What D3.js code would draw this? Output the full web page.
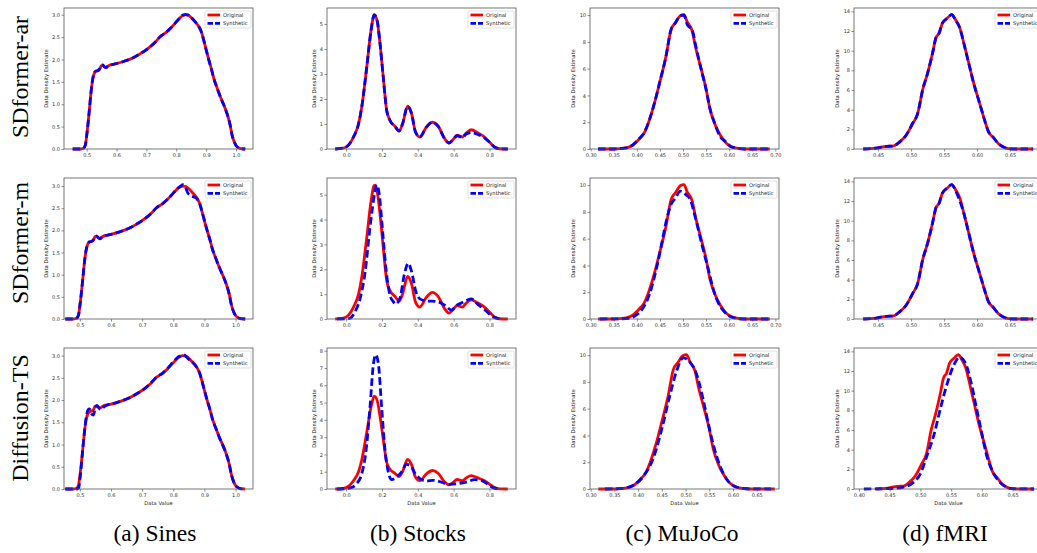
<!DOCTYPE html>
<meta charset="utf-8">
<style>
body { margin: 0; background: #fff; }
svg { display: block; }
.tick text { font-family: 'DejaVu Sans', sans-serif; font-size: 5px; fill: #333; }
.alabel { font-family: 'DejaVu Sans', sans-serif; font-size: 5.2px; fill: #222; }
.legend text { font-family: 'DejaVu Sans', sans-serif; font-size: 5.2px; fill: #222; }
.big { font-family: 'Liberation Serif', 'Times New Roman', serif; font-size: 24px; fill: #000; }
</style>
<body>
<svg width="1037" height="553"></svg>
<script src="https://d3js.org/d3.v7.min.js"></script>
<script>

// ---- data ----
var models = ["SDformer-ar", "SDformer-m", "Diffusion-TS"];
var datasets = ["(a) Sines", "(b) Stocks", "(c) MuJoCo", "(d) fMRI"];

// Sines
var sinesOrigX = [0.453,0.48,0.49,0.496,0.5,0.505,0.51,0.515,0.52,0.526,0.531,0.537,0.543,0.549,0.554,0.56,0.565,0.571,0.576,0.588,0.6,0.625,0.656,0.68,0.712,0.73,0.746,0.765,0.78,0.8,0.814,0.822,0.831,0.84,0.848,0.862,0.876,0.885,0.892,0.9,0.909,0.918,0.926,0.937,0.948,0.96,0.97,0.98,0.987,0.994,1.0,1.008,1.015,1.031];
var sinesOrigY = [0,0,0.02,0.1,0.3,0.6,0.95,1.3,1.55,1.7,1.74,1.75,1.78,1.86,1.87,1.83,1.82,1.85,1.87,1.89,1.91,1.96,2.04,2.13,2.28,2.39,2.51,2.6,2.69,2.84,2.94,2.98,3.0,2.99,2.95,2.85,2.73,2.6,2.43,2.22,1.99,1.78,1.57,1.36,1.16,0.97,0.79,0.55,0.31,0.16,0.08,0.03,0.01,0];
var sinesArY = [0,0,0.02,0.1,0.3,0.6,0.95,1.3,1.56,1.71,1.74,1.75,1.79,1.87,1.88,1.83,1.82,1.85,1.87,1.89,1.91,1.96,2.04,2.13,2.28,2.39,2.51,2.6,2.69,2.84,2.94,2.99,3.0,2.99,2.95,2.85,2.73,2.6,2.43,2.22,1.99,1.78,1.57,1.36,1.16,0.97,0.79,0.55,0.31,0.16,0.08,0.03,0.01,0];
var sinesMY = [0,0,0.02,0.1,0.3,0.6,0.95,1.3,1.55,1.7,1.74,1.75,1.78,1.86,1.87,1.83,1.81,1.85,1.87,1.89,1.91,1.96,2.04,2.13,2.28,2.39,2.51,2.6,2.69,2.84,2.95,2.99,3.03,2.95,2.83,2.77,2.71,2.6,2.43,2.22,1.99,1.78,1.57,1.36,1.16,0.97,0.79,0.55,0.31,0.16,0.08,0.03,0.01,0];
var sinesDiffY = [0,0,0,0.02,0.2,0.55,0.95,1.3,1.6,1.78,1.8,1.7,1.66,1.8,1.88,1.84,1.79,1.8,1.84,1.89,1.91,1.96,2.04,2.13,2.28,2.4,2.52,2.6,2.7,2.86,2.96,2.99,3.02,2.99,2.93,2.85,2.73,2.6,2.43,2.22,1.99,1.78,1.57,1.36,1.16,0.97,0.79,0.55,0.31,0.16,0.08,0.03,0.01,0];
var sinesXDomains = [[0.424, 1.057], [0.449, 1.056], [0.449, 1.056]];
var sinesXTicks = [0.5, 0.6, 0.7, 0.8, 0.9, 1.0];
var sinesYTicks = [0, 0.5, 1.0, 1.5, 2.0, 2.5, 3.0];

// Stocks
var stocksOrigX = [-0.061,-0.015,0.004,0.041,0.069,0.087,0.115,0.139,0.157,0.174,0.189,0.207,0.226,0.244,0.272,0.296,0.315,0.343,0.365,0.387,0.411,0.448,0.481,0.513,0.55,0.574,0.596,0.619,0.648,0.67,0.698,0.735,0.767,0.8,0.828,0.856,0.902];
var stocksOrigY = [0,0.04,0.1,0.48,1.0,1.68,3.28,4.75,5.37,5.08,4.21,2.88,1.55,1.15,0.91,0.72,1.01,1.71,1.41,0.68,0.48,0.88,1.07,0.91,0.41,0.24,0.37,0.55,0.48,0.64,0.77,0.64,0.51,0.28,0.08,0.01,0];
var stocksArY = [0,0.04,0.1,0.48,1.0,1.68,3.28,4.75,5.36,5.1,4.21,2.88,1.55,1.15,0.91,0.72,1.01,1.7,1.42,0.68,0.48,0.88,1.07,0.91,0.41,0.24,0.37,0.53,0.46,0.6,0.66,0.58,0.47,0.27,0.08,0.01,0];
var stocksMX = [-0.05,0.0,0.022,0.05,0.078,0.106,0.133,0.161,0.17,0.185,0.202,0.222,0.244,0.263,0.275,0.3,0.324,0.346,0.365,0.389,0.411,0.448,0.504,0.55,0.587,0.615,0.652,0.698,0.735,0.781,0.819,0.856];
var stocksMY = [0,0.01,0.03,0.3,0.83,1.9,3.68,5.13,5.4,5.0,3.66,2.04,0.97,0.7,0.6,0.83,1.77,2.24,1.91,1.1,0.81,0.73,0.7,0.56,0.36,0.54,0.67,0.81,0.59,0.32,0.09,0];
var stocksDiffX = [-0.052,0.0,0.022,0.059,0.087,0.111,0.133,0.152,0.165,0.18,0.198,0.217,0.235,0.254,0.281,0.309,0.337,0.359,0.383,0.411,0.448,0.485,0.531,0.574,0.624,0.67,0.717,0.754,0.791,0.819,0.856];
var stocksDiffY = [0,0.02,0.06,0.31,0.88,2.23,4.73,7.23,7.77,7.23,4.73,2.23,0.98,0.54,0.69,0.98,1.42,1.37,0.92,0.6,0.46,0.5,0.4,0.27,0.31,0.4,0.54,0.5,0.27,0.08,0];
var stocksXDomains = [[-0.107, 0.948], [-0.107, 0.948], [-0.107, 0.948]];
var stocksXTicks = [0.0, 0.2, 0.4, 0.6, 0.8];
var stocksYTicks = [0, 1, 2, 3, 4, 5, 6, 7, 8];

// MuJoCo
var mujocoOrigX = [0.316,0.35,0.377,0.391,0.406,0.416,0.427,0.438,0.449,0.463,0.474,0.484,0.494,0.502,0.509,0.52,0.527,0.538,0.549,0.559,0.57,0.581,0.591,0.602,0.613,0.634,0.688];
var mujocoOrigY = [0,0,0.08,0.28,0.78,1.2,2.15,3.4,4.9,6.9,8.9,9.45,9.95,10.03,9.5,8.8,7.65,6.15,4.65,2.9,1.78,1.03,0.53,0.23,0.08,0,0];
var mujocoArY = [0,0,0.08,0.3,0.8,1.22,2.15,3.42,4.9,6.9,8.9,9.45,9.95,10.0,9.3,8.9,7.8,6.15,4.6,2.95,1.8,0.9,0.6,0.22,0.08,0,0];
var mujocoMX = [0.32,0.36,0.384,0.399,0.413,0.427,0.441,0.452,0.463,0.474,0.484,0.494,0.506,0.516,0.527,0.541,0.556,0.566,0.577,0.588,0.599,0.609,0.63,0.685];
var mujocoMY = [0,0.01,0.05,0.3,0.8,1.8,3.55,5.3,7.2,8.55,9.05,9.55,9.3,8.9,7.55,5.55,3.55,2.17,1.17,0.6,0.25,0.1,0,0];
var mujocoDiffX = [0.33,0.363,0.391,0.412,0.433,0.45,0.467,0.481,0.495,0.509,0.523,0.537,0.551,0.565,0.579,0.593,0.607,0.628,0.68];
var mujocoDiffY = [0,0.03,0.3,1.0,2.4,4.5,7.0,8.8,9.8,9.5,8.6,6.7,4.4,2.5,1.2,0.45,0.15,0.02,0];
var mujocoXDomains = [[0.2985, 0.708], [0.2985, 0.708], [0.2985, 0.697]];
var mujocoXTicks = [0.30, 0.35, 0.40, 0.45, 0.50, 0.55, 0.60, 0.65, 0.70];
var mujocoYTicks = [0, 2, 4, 6, 8, 10];

// fMRI
var fmriOrigX = [0.4275,0.4475,0.4625,0.4725,0.4825,0.4925,0.5025,0.51,0.5175,0.525,0.5325,0.5375,0.5425,0.5475,0.555,0.5615,0.5675,0.574,0.58,0.5875,0.595,0.6025,0.61,0.6175,0.625,0.6325,0.64,0.6475,0.66,0.685];
var fmriOrigY = [0,0.1,0.27,0.3,0.72,1.4,2.6,3.6,6.0,7.7,9.74,11.27,11.78,12.8,13.32,13.66,13.15,12.3,10.76,8.72,6.68,4.97,3.27,1.74,1.16,0.54,0.2,0.03,0,0];
var fmriArY = [0,0.1,0.26,0.3,0.7,1.4,2.62,3.6,6.0,7.7,9.7,11.27,11.8,12.8,13.3,13.66,13.1,12.3,10.76,8.7,6.68,4.97,3.27,1.74,1.16,0.54,0.2,0.03,0,0];
var fmriMY = [0,0.1,0.27,0.3,0.72,1.4,2.6,3.6,6.0,7.7,9.74,11.27,11.78,12.8,13.32,13.66,13.05,12.0,10.76,8.72,6.68,4.97,3.27,1.74,1.16,0.54,0.2,0.03,0,0];
var fmriDiffX = [0.408,0.453,0.4725,0.489,0.5,0.51,0.5225,0.533,0.5435,0.554,0.564,0.575,0.583,0.591,0.599,0.607,0.618,0.629,0.64,0.65,0.685];
var fmriDiffY = [0,0.05,0.2,0.7,1.55,3.25,5.6,8.3,10.7,12.55,13.4,12.55,10.7,8.3,5.95,3.6,1.72,0.7,0.2,0.03,0];
var fmriXDomains = [[0.4135, 0.70], [0.4135, 0.70], [0.392, 0.6995]];
var fmriXTicks = [0.40, 0.45, 0.50, 0.55, 0.60, 0.65];
var fmriYTicks = [0, 2, 4, 6, 8, 10, 12, 14];

// ---- build panels ----
function pts(xs, ys) { return xs.map(function(x, i) { return [x, ys[i]]; }); }

var cols = [
  { orig: pts(sinesOrigX, sinesOrigY),
    synth: [pts(sinesOrigX, sinesArY), pts(sinesOrigX, sinesMY), pts(sinesOrigX, sinesDiffY)],
    xdom: sinesXDomains, xt: sinesXTicks, yt: sinesYTicks, fx: ".1f", fy: ".1f" },
  { orig: pts(stocksOrigX, stocksOrigY),
    synth: [pts(stocksOrigX, stocksArY), pts(stocksMX, stocksMY), pts(stocksDiffX, stocksDiffY)],
    xdom: stocksXDomains, xt: stocksXTicks, yt: stocksYTicks, fx: ".1f", fy: "d" },
  { orig: pts(mujocoOrigX, mujocoOrigY),
    synth: [pts(mujocoOrigX, mujocoArY), pts(mujocoMX, mujocoMY), pts(mujocoDiffX, mujocoDiffY)],
    xdom: mujocoXDomains, xt: mujocoXTicks, yt: mujocoYTicks, fx: ".2f", fy: "d" },
  { orig: pts(fmriOrigX, fmriOrigY),
    synth: [pts(fmriOrigX, fmriArY), pts(fmriOrigX, fmriMY), pts(fmriDiffX, fmriDiffY)],
    xdom: fmriXDomains, xt: fmriXTicks, yt: fmriYTicks, fx: ".2f", fy: "d" }
];

var svg = d3.select("svg");
var colLeft = [64, 327, 590, 854],
    rowTop = [8, 178, 348],
    pw = 189, ph = 141;
var ylabOff = [16, 11.5, 15, 15.5];

var line = d3.line().curve(d3.curveMonotoneX);

cols.forEach(function(c, ci) {
  models.forEach(function(m, ri) {
    var x0 = colLeft[ci], y0 = rowTop[ri];
    var syn = c.synth[ri];
    var ymax = d3.max(c.orig.concat(syn), function(d) { return d[1]; }) * 1.05;
    var x = d3.scaleLinear().domain(c.xdom[ri]).range([0, pw]);
    var y = d3.scaleLinear().domain([0, ymax]).range([ph, 0]);
    var g = svg.append("g").attr("transform", "translate(" + x0 + "," + y0 + ")");

    var xt = c.xt.filter(function(v) { return v >= c.xdom[ri][0] - 1e-9 && v <= c.xdom[ri][1] + 1e-9; });
    var yt = c.yt.filter(function(v) { return v <= ymax; });

    var xa = g.append("g").attr("transform", "translate(0," + ph + ")")
      .call(d3.axisBottom(x).tickValues(xt).tickFormat(d3.format(c.fx)).tickSize(2.5).tickPadding(1.5));
    var ya = g.append("g")
      .call(d3.axisLeft(y).tickValues(yt).tickFormat(d3.format(c.fy)).tickSize(2.5).tickPadding(1.5));
    [xa, ya].forEach(function(a) {
      a.select(".domain").remove();
      a.selectAll(".tick line").attr("stroke", "#444").attr("stroke-width", 0.6);
      a.selectAll(".tick text").attr("font-size", null).attr("font-family", null);
    });

    line.x(function(d) { return x(d[0]); }).y(function(d) { return y(d[1]); });

    g.append("path").datum(c.orig)
      .attr("d", line).attr("fill", "none")
      .attr("stroke", "#ff0000").attr("stroke-width", 2.8).attr("stroke-linejoin", "round");
    g.append("path").datum(syn)
      .attr("d", line).attr("fill", "none")
      .attr("stroke", "#0000ff").attr("stroke-width", 2.8)
      .attr("stroke-dasharray", "7.5,3.5");

    g.append("rect").attr("width", pw).attr("height", ph)
      .attr("fill", "none").attr("stroke", "#555").attr("stroke-width", 0.8);

    g.append("text").attr("class", "alabel")
      .attr("transform", "translate(" + (-ylabOff[ci]) + "," + (ph / 2) + ") rotate(-90)")
      .attr("text-anchor", "middle")
      .text("Data Density Estimate");

    if (ri === 2) {
      g.append("text").attr("class", "alabel")
        .attr("x", pw / 2).attr("y", ph + 15.5)
        .attr("text-anchor", "middle")
        .text("Data Value");
    }

    // legend
    var lw = 46, lh = 17;
    var lg = g.append("g").attr("class", "legend")
      .attr("transform", "translate(" + (pw - 2 - lw) + ",3)");
    lg.append("rect").attr("width", lw).attr("height", lh).attr("rx", 1.5)
      .attr("fill", "#fff").attr("fill-opacity", 0.85)
      .attr("stroke", "#ccc").attr("stroke-width", 0.6);
    lg.append("line").attr("x1", 2.5).attr("x2", 15).attr("y1", 4).attr("y2", 4)
      .attr("stroke", "#ff0000").attr("stroke-width", 2.8);
    lg.append("line").attr("x1", 2.5).attr("x2", 15).attr("y1", 12.3).attr("y2", 12.3)
      .attr("stroke", "#0000ff").attr("stroke-width", 2.8).attr("stroke-dasharray", "5.5,2");
    lg.append("text").attr("x", 18).attr("y", 5.8).text("Original");
    lg.append("text").attr("x", 18).attr("y", 14.1).text("Synthetic");
  });
});

// row labels
var rowMid = [77, 243, 418];
models.forEach(function(m, i) {
  svg.append("text").attr("class", "big")
    .attr("transform", "translate(28," + rowMid[i] + ") rotate(-90)")
    .attr("text-anchor", "middle")
    .text(m);
});

// column captions
var colMid = [155, 418, 682, 945];
datasets.forEach(function(t, i) {
  svg.append("text").attr("class", "big")
    .attr("x", colMid[i]).attr("y", 541)
    .attr("text-anchor", "middle")
    .style("font-size", "23.5px")
    .text(t);
});

</script>
</body>
